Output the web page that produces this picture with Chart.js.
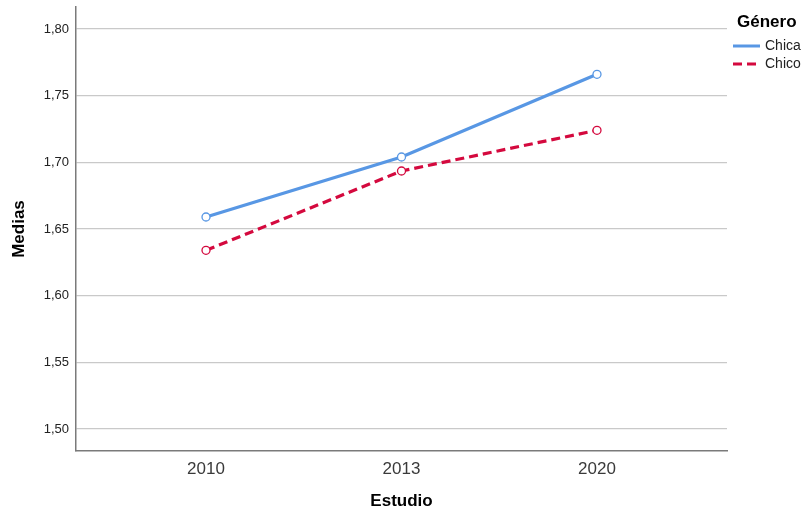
<!doctype html>
<html><head>
<meta charset="utf-8">
<script src="https://cdn.jsdelivr.net/npm/chart.js"></script>
<style>
  html, body { margin: 0; padding: 0; background: #fff; }
  #holder { width: 804px; height: 511px; }
</style>
</head>
<body>
<div id="holder"><canvas id="myChart"></canvas></div>
<script>
// data
var years = ['2010', '2013', '2020'];
var seriesNames = ['Chica', 'Chico'];
var chica = [1.659, 1.704, 1.766];
var chico = [1.634, 1.6935, 1.724];
var yTicks = [1.50, 1.55, 1.60, 1.65, 1.70, 1.75, 1.80];

var blue = '#5897e4';
var red = '#d4093e';
var font = '"Liberation Sans", Arial, sans-serif';

function pts(vals) {
    return vals.map(function(v, i) { return {x: i, y: v}; });
}

// legend drawn at the right like the original (title + line samples)
var sideLegend = {
    id: 'sideLegend',
    afterDraw: function(chart) {
        var ctx = chart.ctx;
        var x0 = chart.chartArea.right + 6;
        ctx.save();
        ctx.fillStyle = '#000';
        ctx.font = 'bold 17px ' + font;
        ctx.textBaseline = 'middle';
        ctx.textAlign = 'left';
        ctx.fillText('Género', x0 + 4, 22);
        ctx.font = '14px ' + font;
        chart.data.datasets.forEach(function(ds, i) {
            var y = 46 + i * 18;
            ctx.strokeStyle = ds.borderColor;
            ctx.lineWidth = 3;
            ctx.setLineDash(ds.borderDash || []);
            ctx.beginPath();
            ctx.moveTo(x0, y);
            ctx.lineTo(x0 + 27, y);
            ctx.stroke();
            ctx.setLineDash([]);
            ctx.fillStyle = '#222';
            ctx.fillText(ds.label, x0 + 32, y);
        });
        ctx.restore();
    }
};

var config = {
    type: 'line',
    data: {
        datasets: [{
            label: seriesNames[0],
            data: pts(chica),
            borderColor: blue,
            borderWidth: 3.2,
            pointRadius: 4,
            pointBorderWidth: 1.3,
            pointBackgroundColor: '#fff',
            pointBorderColor: blue,
            tension: 0
        }, {
            label: seriesNames[1],
            data: pts(chico),
            borderColor: red,
            borderWidth: 3.2,
            borderDash: [9, 5],
            pointRadius: 4,
            pointBorderWidth: 1.3,
            pointBackgroundColor: '#fff',
            pointBorderColor: red,
            tension: 0
        }]
    },
    options: {
        responsive: true,
        maintainAspectRatio: false,
        animation: false,
        layout: { padding: { top: 7, right: 77, left: 0, bottom: 0 } },
        plugins: {
            legend: { display: false },
            tooltip: { enabled: false }
        },
        scales: {
            x: {
                type: 'linear',
                min: -0.665,
                max: 2.665,
                afterFit: function(s) { s.height = 60; },
                afterBuildTicks: function(s) {
                    s.ticks = years.map(function(y, i) { return {value: i}; });
                },
                grid: { display: false, drawTicks: false },
                border: { display: true, color: '#7a7a7a', width: 1.5 },
                ticks: {
                    padding: 8,
                    color: '#3a3a3a',
                    font: { family: font, size: 17 },
                    callback: function(v) { return years[v]; }
                },
                title: {
                    display: true,
                    text: 'Estudio',
                    color: '#000',
                    font: { family: font, size: 17, weight: 'bold' },
                    padding: { top: 0, bottom: -1 }
                }
            },
            y: {
                min: 1.4835,
                max: 1.8165,
                afterFit: function(s) { s.width = 76; s.paddingTop = 0; s.paddingBottom = 0; },
                afterBuildTicks: function(s) {
                    s.ticks = yTicks.map(function(v) { return {value: v}; });
                },
                grid: { color: '#c9c9c9', lineWidth: 1.2, drawTicks: false },
                border: { display: true, color: '#7a7a7a', width: 1.5 },
                ticks: {
                    padding: 7,
                    color: '#222',
                    font: { family: font, size: 13 },
                    callback: function(v) { return v.toFixed(2).replace('.', ','); }
                },
                title: {
                    display: true,
                    text: 'Medias',
                    color: '#000',
                    font: { family: font, size: 17, weight: 'bold' },
                    padding: { top: 9, bottom: 0 }
                }
            }
        }
    },
    plugins: [sideLegend]
};

new Chart(document.getElementById('myChart'), config);
</script>
</body>
</html>
